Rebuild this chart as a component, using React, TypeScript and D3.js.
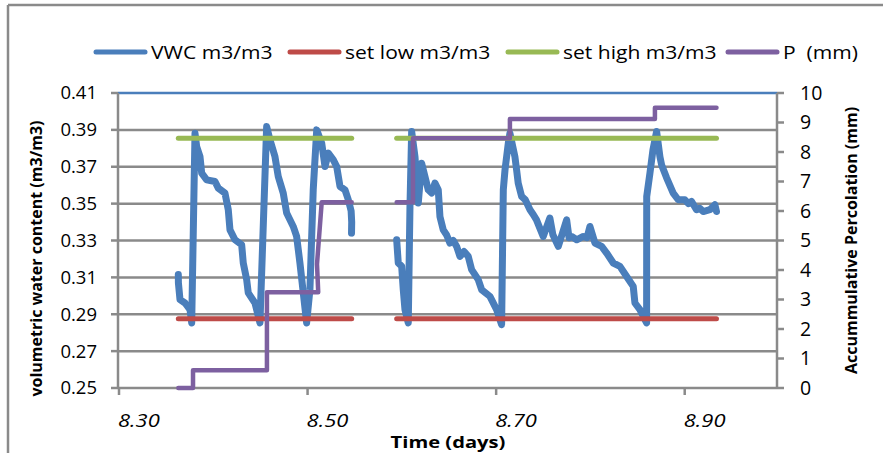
import React from "react";
import * as d3 from "d3";

// ---------- data ----------
const xTicks = [8.3, 8.5, 8.7, 8.9];
const leftTicks = [0.25, 0.27, 0.29, 0.31, 0.33, 0.35, 0.37, 0.39, 0.41];
const rightTicks = [0, 1, 2, 3, 4, 5, 6, 7, 8, 9, 10];

const vwcTime1 = [8.3629, 8.3630, 8.3647, 8.3700, 8.3753, 8.3771, 8.3806, 8.3824, 8.3859, 8.3877, 8.3930, 8.4018, 8.4053, 8.4124, 8.4159, 8.4177, 8.4230, 8.4301, 8.4318, 8.4354, 8.4371, 8.4442, 8.4495, 8.4566, 8.4601, 8.4654, 8.4689, 8.4742, 8.4778, 8.4848, 8.4884, 8.4919, 8.4990, 8.5025, 8.5060, 8.5097, 8.5150, 8.5185, 8.5220, 8.5273, 8.5309, 8.5344, 8.5397, 8.5432, 8.5462, 8.5468, 8.5466];
const vwcValue1 = [0.3115, 0.3070, 0.2979, 0.2961, 0.2925, 0.2853, 0.3882, 0.3809, 0.3755, 0.3665, 0.3629, 0.3620, 0.3584, 0.3557, 0.3467, 0.3358, 0.3304, 0.3277, 0.3178, 0.3088, 0.3016, 0.2961, 0.2853, 0.3918, 0.3846, 0.3755, 0.3647, 0.3557, 0.3449, 0.3376, 0.3322, 0.3178, 0.2853, 0.3033, 0.3575, 0.3900, 0.3828, 0.3701, 0.3774, 0.3737, 0.3701, 0.3593, 0.3575, 0.3521, 0.3460, 0.3400, 0.3340];

const vwcTime2 = [8.5945, 8.5962, 8.5998, 8.6015, 8.6033, 8.6068, 8.6086, 8.6104, 8.6139, 8.6174, 8.6210, 8.6245, 8.6280, 8.6316, 8.6351, 8.6386, 8.6404, 8.6439, 8.6475, 8.6510, 8.6545, 8.6581, 8.6616, 8.6660, 8.6704, 8.6740, 8.6810, 8.6846, 8.6934, 8.7005, 8.7058, 8.7076, 8.7094, 8.7129, 8.7146, 8.7199, 8.7217, 8.7234, 8.7270, 8.7310, 8.7359, 8.7395, 8.7428, 8.7499, 8.7570, 8.7602, 8.7659, 8.7698, 8.7748, 8.7773, 8.7801, 8.7854, 8.7924, 8.7964, 8.7995, 8.8048, 8.8119, 8.8172, 8.8242, 8.8313, 8.8384, 8.8454, 8.8472, 8.8525, 8.8596, 8.8597, 8.8631, 8.8663, 8.8702, 8.8737, 8.8755, 8.8808, 8.8878, 8.8931, 8.9002, 8.9040, 8.9073, 8.9125, 8.9160, 8.9196, 8.9267, 8.9320, 8.9337];
const vwcValue2 = [0.3304, 0.3178, 0.3160, 0.3033, 0.2925, 0.2853, 0.3484, 0.3891, 0.3755, 0.3503, 0.3719, 0.3647, 0.3575, 0.3557, 0.3611, 0.3575, 0.3430, 0.3358, 0.3330, 0.3286, 0.3300, 0.3268, 0.3214, 0.3240, 0.3214, 0.3142, 0.3088, 0.3033, 0.2997, 0.2925, 0.2844, 0.3575, 0.3683, 0.3828, 0.3882, 0.3755, 0.3683, 0.3611, 0.3539, 0.3520, 0.3467, 0.3440, 0.3412, 0.3322, 0.3422, 0.3331, 0.3268, 0.3331, 0.3412, 0.3315, 0.3322, 0.3304, 0.3322, 0.3315, 0.3376, 0.3286, 0.3268, 0.3232, 0.3178, 0.3160, 0.3105, 0.3051, 0.2961, 0.2925, 0.2853, 0.3539, 0.3665, 0.3791, 0.3891, 0.3755, 0.3710, 0.3640, 0.3557, 0.3521, 0.3521, 0.3500, 0.3512, 0.3467, 0.3475, 0.3457, 0.3467, 0.3494, 0.3457];

const setLowValue = 0.2875;
const setHighValue = 0.3855;
const setTimeSpans = [[8.3629, 8.5468], [8.5945, 8.9337]];

const pTime1 = [8.3629, 8.3785, 8.3785, 8.4569, 8.4569, 8.5113, 8.5100, 8.5150, 8.5468];
const pValue1 = [0, 0, 0.6, 0.6, 3.25, 3.25, 4.2, 6.3, 6.3];
const pTime2 = [8.5945, 8.6118, 8.6118, 8.7146, 8.7146, 8.8684, 8.8684, 8.9337];
const pValue2 = [6.3, 6.3, 8.47, 8.47, 9.12, 9.12, 9.5, 9.5];

const legendLabels = ["VWC m3/m3", "set low m3/m3", "set high m3/m3", "P  (mm)"];
const colors = ["#4a7ebb", "#be4b48", "#98b954", "#7d60a0"];

// ---------- layout ----------
const W = 883, H = 453;
const x0 = 119, x1 = 779, yTop = 93, yBot = 388;
const FONT = "'Open Sans', sans-serif";
const GRID = "#8a8a8a";
const SX = 1.22; // horizontal stretch of the reference's text
const SXL = 1.17;

export default function App() {
  const x = d3.scaleLinear().domain([8.3, 9.0]).range([x0, x1]);
  const yL = d3.scaleLinear().domain([0.25, 0.41]).range([yBot, yTop]);
  const yR = d3.scaleLinear().domain([0, 10]).range([yBot, yTop]);
  const axisRight = 777;

  const lineL = d3.line<[number, number]>().x(d => x(d[0])).y(d => yL(d[1]));
  const lineR = d3.line<[number, number]>().x(d => x(d[0])).y(d => yR(d[1]));

  const vwc1 = vwcTime1.map((t, i) => [t, vwcValue1[i]] as [number, number]);
  const vwc2 = vwcTime2.map((t, i) => [t, vwcValue2[i]] as [number, number]);
  const p1 = pTime1.map((t, i) => [t, pValue1[i]] as [number, number]);
  const p2 = pTime2.map((t, i) => [t, pValue2[i]] as [number, number]);

  const legendX = [96, 290, 508, 728];

  return (
    <svg width={W} height={H} style={{ position: "absolute", left: 0, top: 0, background: "#fff" }} fontFamily={FONT}>
      {/* outer frame */}
      <line x1={8} y1={5} x2={W} y2={5} stroke={GRID} strokeWidth={2.5} />
      <line x1={8} y1={5} x2={8} y2={H} stroke={GRID} strokeWidth={2.5} />

      {/* legend */}
      {legendLabels.map((lab, i) => (
        <g key={lab}>
          <line x1={legendX[i]} x2={legendX[i] + 49} y1={52} y2={52} stroke={colors[i]} strokeWidth={5} strokeLinecap="round" />
          <text transform={`translate(${legendX[i] + 55},59) scale(${SXL},1)`} fontSize={18} fill="#000" style={{ whiteSpace: "pre" }}>{lab}</text>
        </g>
      ))}

      {/* gridlines */}
      {leftTicks.slice(1, -1).map(v => (
        <line key={v} x1={x0 - 1} x2={axisRight} y1={yL(v)} y2={yL(v)} stroke={GRID} strokeWidth={2.5} />
      ))}
      <line x1={x0 - 1} x2={axisRight} y1={yL(0.41)} y2={yL(0.41)} stroke={colors[0]} strokeWidth={2.5} />

      {/* axes */}
      <line x1={x0 - 1} x2={x0 - 1} y1={yTop} y2={yBot} stroke={GRID} strokeWidth={2.5} />
      <line x1={axisRight} x2={axisRight} y1={yTop} y2={yBot} stroke={GRID} strokeWidth={2.5} />
      <line x1={x0 - 1} x2={axisRight} y1={yBot} y2={yBot} stroke={GRID} strokeWidth={2.5} />
      {leftTicks.map(v => (
        <g key={v}>
          <line x1={x0 - 8} x2={x0 - 1} y1={yL(v)} y2={yL(v)} stroke={GRID} strokeWidth={2.5} />
          <text x={97} y={yL(v)} dy="0.35em" textAnchor="end" fontSize={18.5}>{v.toFixed(2)}</text>
        </g>
      ))}
      {rightTicks.map(v => (
        <g key={v}>
          <line x1={axisRight} x2={axisRight + 7} y1={yR(v)} y2={yR(v)} stroke={GRID} strokeWidth={2.5} />
          <text x={800} y={yR(v)} dy="0.35em" textAnchor="start" fontSize={19.5}>{v}</text>
        </g>
      ))}
      {xTicks.map(v => (
        <g key={v}>
          <line x1={x(v)} x2={x(v)} y1={yBot} y2={yBot + 7} stroke={GRID} strokeWidth={2.5} />
          <text transform={`translate(${x(v) - 1},427) scale(${SX},1)`} fontSize={18} fontStyle="italic">{v.toFixed(2)}</text>
        </g>
      ))}

      {/* axis titles */}
      <text transform={`translate(448,448) scale(1.26,1)`} textAnchor="middle" fontSize={16} fontWeight="bold">Time (days)</text>
      <text transform={`translate(42,${(yTop + yBot) / 2 + 18}) rotate(-90)`} textAnchor="middle" fontSize={16} fontWeight="bold">volumetric water content (m3/m3)</text>
      <text transform={`translate(857,${(yTop + yBot) / 2}) rotate(-90)`} textAnchor="middle" fontSize={16} fontWeight="bold">Accummulative Percolation (mm)</text>

      {/* series */}
      <path d={lineL(vwc1) || ""} fill="none" stroke={colors[0]} strokeWidth={7} strokeLinejoin="round" strokeLinecap="round" />
      <path d={lineL(vwc2) || ""} fill="none" stroke={colors[0]} strokeWidth={7} strokeLinejoin="round" strokeLinecap="round" />
      {setTimeSpans.map((s, i) => (
        <g key={i}>
          <path d={lineL([[s[0], setLowValue], [s[1], setLowValue]]) || ""} stroke={colors[1]} strokeWidth={5} strokeLinecap="round" />
          <path d={lineL([[s[0], setHighValue], [s[1], setHighValue]]) || ""} stroke={colors[2]} strokeWidth={5} strokeLinecap="round" />
        </g>
      ))}
      <path d={lineR(p1) || ""} fill="none" stroke={colors[3]} strokeWidth={4.5} strokeLinejoin="round" strokeLinecap="round" />
      <path d={lineR(p2) || ""} fill="none" stroke={colors[3]} strokeWidth={4.5} strokeLinejoin="round" strokeLinecap="round" />
    </svg>
  );
}
